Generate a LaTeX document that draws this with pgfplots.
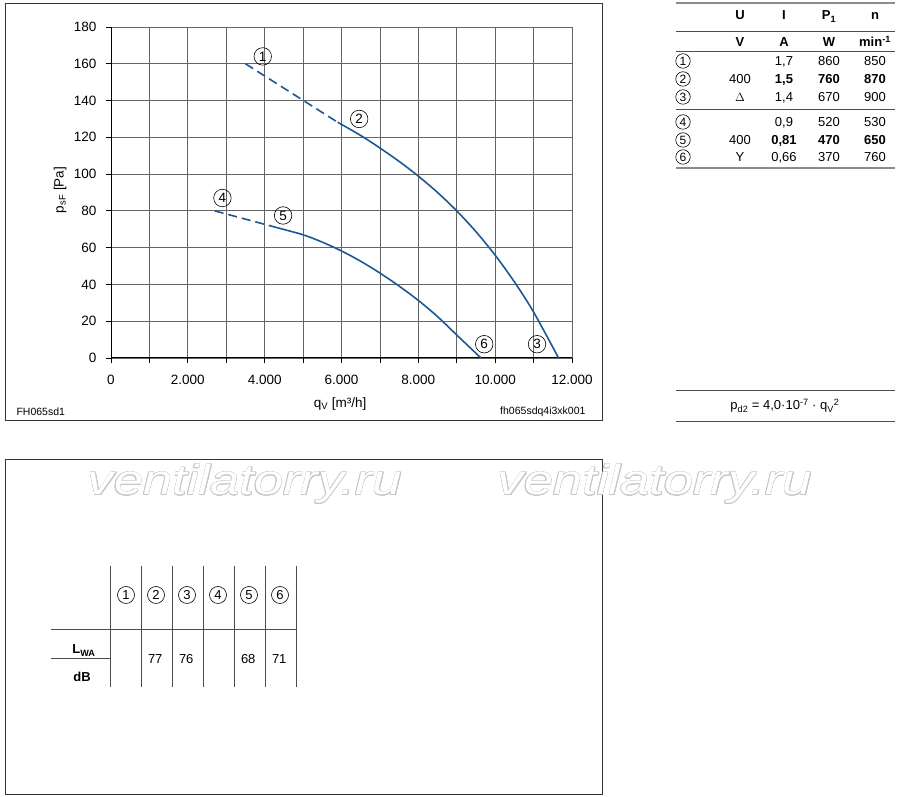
\documentclass[border=0pt]{standalone}
\usepackage{fontspec}
\setmainfont{Liberation Sans}
\usepackage{pgfplots}
\pgfplotsset{compat=1.18}
\usepackage{contour}
\contourlength{0.4pt}
\definecolor{curve}{RGB}{28,88,148}
\definecolor{gridc}{RGB}{100,100,100}
\tikzset{
  cn/.style={circle,draw,line width=0.6pt,inner sep=0pt,minimum size=17.5pt,font=\fontsize{13.5}{14}\selectfont},
  tf/.style={font=\fontsize{13}{15}\selectfont,anchor=base}
}
\begin{document}
\begin{tikzpicture}[x=1pt,y=1pt]
\path[use as bounding box] (0,0) rectangle (900,797);
% frames
\draw[line width=1pt,black!80] (5,376) rectangle (602,793);
\draw[line width=1pt,black!80] (5,2) rectangle (602,337);
% watermark
\foreach \wx in {245,655}{
  \node[anchor=base,xscale=1.25,font=\fontsize{42}{44}\itshape] at (\wx,302) {\textcolor{white}{\contour{black!22}{ventilatorry.ru}}};
}
\begin{axis}[
  at={(111pt,439pt)}, anchor=south west,
  scale only axis, width=461pt, height=331pt,
  xmin=0, xmax=12000, ymin=0, ymax=180,
  axis x line*=bottom, axis y line*=left,
  axis line style={-, black, line width=1pt},
  grid=major, grid style={gridc, line width=0.8pt},
  scaled x ticks=false,
  xtick={0,1000,...,12000},
  xticklabels={0,,2.000,,4.000,,6.000,,8.000,,10.000,,12.000},
  ytick={0,20,...,180},
  tick align=outside, major tick length=5pt,
  tick style={black, line width=0.8pt},
  /pgf/number format/assume math mode=true,
  ticklabel style={font=\fontsize{13.5}{16}\selectfont},
  xticklabel style={yshift=-9pt},
  yticklabel style={xshift=-6pt},
  xlabel={q\textsubscript{V} [m³/h]},
  ylabel={p\textsubscript{sF} [Pa]},
  x label style={at={(axis description cs:0.497,-0.139)},anchor=center,font=\fontsize{13.5}{16}\selectfont},
  y label style={at={(axis description cs:-0.1106,0.5076)},anchor=center,font=\fontsize{13.5}{16}\selectfont},
  clip=false,
]
\addplot[curve, line width=1.6pt, dash pattern=on 9pt off 5pt] coordinates {(3500,160) (5900,128.2)};
\addplot[curve, line width=1.6pt, smooth] coordinates {
 (5900,128.2) (6500,121) (7000,114.2) (7500,106.9) (8000,98.9) (8500,90) (9000,80)
 (9500,68.7) (10000,55.9) (10500,41.4) (11000,25) (11650,0)};
\addplot[curve, line width=1.6pt, dash pattern=on 9pt off 5pt] coordinates {(2700,80) (4300,71)};
\addplot[curve, line width=1.6pt, smooth] coordinates {
 (4300,71) (5000,67) (5500,63) (6000,58.2) (6500,52.6) (7000,46.2) (7500,39.1) (8000,31.3)
 (8500,22.5) (9000,12.5) (9630,0)};
\node[cn] at (axis cs:3950,164) {1};
\node[cn] at (axis cs:6460,130) {2};
\node[cn] at (axis cs:11090,7.5) {3};
\node[cn] at (axis cs:2900,87) {4};
\node[cn] at (axis cs:4480,77.5) {5};
\node[cn] at (axis cs:9715,7.5) {6};
\end{axis}
% corner codes
\node[anchor=west,font=\fontsize{10.5}{12}\selectfont] at (13,385) {FH065sd1};
\node[anchor=east,font=\fontsize{10.5}{12}\selectfont] at (589,385) {fh065sdq4i3xk001};
% right table
\draw[line width=1.6pt,black!45] (676,794) -- (895,794);
\draw[line width=0.6pt,black!70] (676,766) -- (895,766);
\draw[line width=0.6pt,black!70] (676,746) -- (895,746);
\draw[line width=0.6pt,black!70] (676,688) -- (895,688);
\draw[line width=1.6pt,black!45] (676,629) -- (895,629);
\foreach \x/\t in {740/U,784/I,829/P\textsubscript{1},875/n}{
  \node[tf] at (\x,777) {\textbf{\t}};}
\foreach \x/\t in {740/V,784/A,829/W,875/min\textsuperscript{-1}}{
  \node[tf] at (\x,750) {\textbf{\t}};}
\foreach \y/\c/\u/\i/\p/\n in {
  731/1//1{,}7/860/850,
  713/2/400/\textbf{1{,}5}/\textbf{760}/\textbf{870},
  695/3/$\Delta$/1{,}4/670/900,
  670/4//0{,}9/520/530,
  652/5/400/\textbf{0{,}81}/\textbf{470}/\textbf{650},
  635/6/Y/0{,}66/370/760}{
  \node[cn,minimum size=14.5pt,font=\fontsize{12}{13}\selectfont] at (683,\y+5) {\c};
  \node[tf] at (740,\y) {\u};
  \node[tf] at (784,\y) {\i};
  \node[tf] at (829,\y) {\p};
  \node[tf] at (875,\y) {\n};
}
% formula
\draw[line width=0.6pt,black!70] (676,407) -- (895,407);
\draw[line width=0.6pt,black!70] (676,376) -- (895,376);
\node[font=\fontsize{13}{15}\selectfont] at (785,391) {p\textsubscript{d2} = 4,0·10\textsuperscript{-7} · q\textsubscript{V}\textsuperscript{2}};
% bottom table
\foreach \x in {110,141,172,203,234,265,296}{
  \draw[line width=0.6pt,black!70] (\x,231) -- (\x,110);}
\draw[line width=0.6pt,black!70] (51,168) -- (296,168);
\draw[line width=0.6pt,black!70] (51,139) -- (110,139);
\foreach \x/\c in {126/1,156/2,187/3,218/4,249/5,280/6}{
  \node[cn,minimum size=17pt,font=\fontsize{13}{14}\selectfont] at (\x,202) {\c};}
\node[anchor=base east,font=\fontsize{13}{15}\selectfont\bfseries] at (99,143) {L\textsubscript{WA}};
\node[anchor=base,font=\fontsize{13}{15}\selectfont\bfseries] at (82,115) {dB};
\foreach \x/\v in {166/77,197/76,259/68,290/71}{
  \node[anchor=base east,font=\fontsize{13}{15}\selectfont] at (\x,133) {\v};}
\end{tikzpicture}
\end{document}
